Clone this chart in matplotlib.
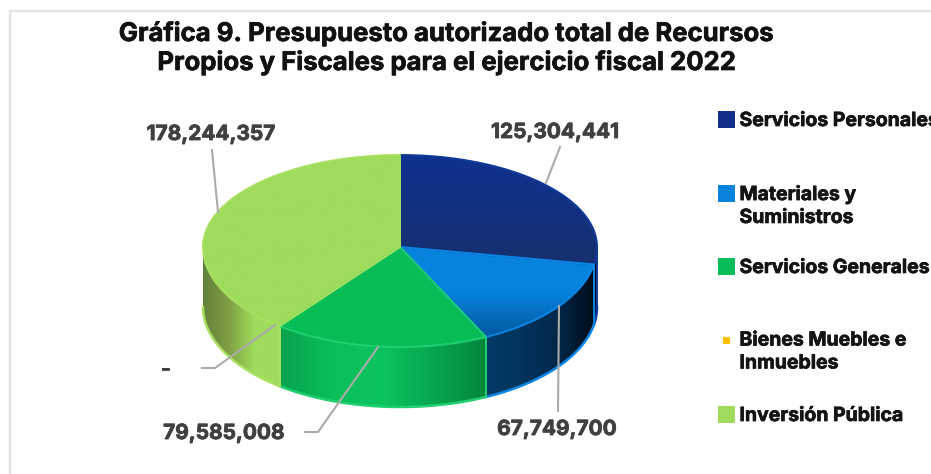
import numpy as np
import matplotlib
matplotlib.use("Agg")
import matplotlib.pyplot as plt
import matplotlib.patheffects as pe
from matplotlib.colors import LinearSegmentedColormap
from matplotlib.patches import Polygon, Rectangle

categories = ["Servicios Personales", "Materiales y\nSuministros", "Servicios Generales",
              "Bienes Muebles e\nInmuebles", "Inversión Pública"]
values = [125304441, 67749700, 79585008, 0, 178244357]
labels = ["125,304,441", "67,749,700", "79,585,008", "-", "178,244,357"]
colors = ["#12308a", "#0783dc", "#08bd58", "#ffc000", "#a0dc5c"]
edge_colors = ["#103a9a", "#0a86e6", "#20d070", "#ffc000", "#a8e060"]
top_grad = [["#0e3290", "#17306e"], ["#0683dd", "#0683dd", "#04599f"], ["#08bd56", "#08bd56"],
            ["#ffc000", "#ffc000"], ["#a0dc5c", "#a0dc5c"]]
side_grad = [["#001020", "#001020"],
             ["#023a66", "#03345c", "#00284a", "#000c18"],
             ["#07a24c", "#0abf5a", "#0cc45f", "#07a54e", "#04863c"],
             ["#ffc000", "#ffc000"],
             ["#63803a", "#7f9f45", "#a0dc5c", "#a0dc5c"]]
title = "Gráfica 9. Presupuesto autorizado total de Recursos\nPropios y Fiscales para el ejercicio fiscal 2022"

plt.rcParams['font.family'] = ['Inter', 'DejaVu Sans']

cx, cy, rx = 400, 247, 197
ry_back, ry_front = 92, 100
depth = 60


def rim(theta):
    # theta clockwise from 12 o'clock, in degrees
    t = np.radians(theta)
    c = np.cos(t)
    ry = np.where(c > 0, ry_back, ry_front)
    return cx + rx * np.sin(t), cy - ry * c


def gradient(ax, stops, clip, extent, vertical=False):
    cmap = LinearSegmentedColormap.from_list("g", stops)
    g = np.linspace(0, 1, 256)
    g = g.reshape(-1, 1) if vertical else g.reshape(1, -1)
    im = ax.imshow(g, cmap=cmap, extent=extent, aspect="auto", vmin=0, vmax=1, zorder=2)
    im.set_clip_path(clip)


def heavy(width, color):
    return [pe.withStroke(linewidth=width, foreground=color)]


fig = plt.figure(figsize=(9.31, 4.74), dpi=100)
ax = fig.add_axes([0, 0, 1, 1])
ax.axis("off")

# outer frame, open on the right
ax.plot([931, 10, 10], [11, 11, 474], color="#e2e2e2", lw=1.6, zorder=1)

angles = np.cumsum([0] + values) / sum(values) * 360

# side walls, only the front half shows
for i, v in enumerate(values):
    if v == 0:
        continue
    a0, a1 = max(angles[i], 90), min(angles[i + 1], 270)
    if a1 <= a0:
        continue
    th = np.linspace(a0, a1, 100)
    x, y = rim(th)
    pts = np.vstack([np.c_[x, y], np.c_[x[::-1], y[::-1] + depth]])
    wall = Polygon(pts, closed=True, fc="none", ec="none", transform=ax.transData)
    ax.add_patch(wall)
    gradient(ax, side_grad[i], wall, [x.min(), x.max(), 480, 100])
    ax.plot(x, y + depth, color=edge_colors[i], lw=1.8, zorder=3)
    ax.plot([x[0], x[0]], [y[0], y[0] + depth], color=edge_colors[i], lw=1.4, zorder=3)

# top face
for i, v in enumerate(values):
    if v == 0:
        continue
    th = np.linspace(angles[i], angles[i + 1], 200)
    x, y = rim(th)
    pts = np.vstack([[cx, cy], np.c_[x, y]])
    face = Polygon(pts, closed=True, fc="none", ec="none", transform=ax.transData)
    ax.add_patch(face)
    gradient(ax, top_grad[i], face, [cx - rx, cx + rx, pts[:, 1].max(), pts[:, 1].min()], vertical=True)
    ax.add_patch(Polygon(pts, closed=True, fc="none", ec=edge_colors[i], lw=1.4, zorder=4))

# leader lines and value labels
leaders = [([546, 560], [183, 147]), ([559, 558], [306, 411]),
           ([378, 318, 305], [347, 432, 432]), ([275, 215, 202], [325, 368, 368]),
           ([218, 212], [212, 150])]
label_pos = [(555, 132), (557, 429), (224, 433), (165, 369), (211, 134)]
for (lx, ly), (tx, ty), s in zip(leaders, label_pos, labels):
    ax.plot(lx, ly, color="#ababab", lw=1.5, zorder=5)
    ax.text(tx, ty, s, ha="center", va="center", fontsize=15, fontweight="bold", color="#404040",
            zorder=6, path_effects=heavy(0.6, "#404040"))

ax.text(447, 48, title, ha="center", va="center", fontsize=18.5, fontweight="bold",
        color="#111111", linespacing=1.2, path_effects=heavy(0.5, "#111111"))

# legend
swatch_y = [119.5, 193, 266.5, 340, 414.5]
swatch_size = [17, 17, 17, 7, 17]
text_y = [121, 206, 268, 352, 416]
for i, name in enumerate(categories):
    s = swatch_size[i]
    ax.add_patch(Rectangle((726.5 - s / 2, swatch_y[i] - s / 2), s, s, fc=colors[i], ec="none", zorder=3))
    ax.text(739.5, text_y[i], name, ha="left", va="center", fontsize=14, fontweight="bold",
            color="#141414", linespacing=1.35, clip_on=True, path_effects=heavy(0.5, "#141414"))

ax.set_xlim(0, 931)
ax.set_ylim(474, 0)
fig.savefig("out.png", dpi=100)
